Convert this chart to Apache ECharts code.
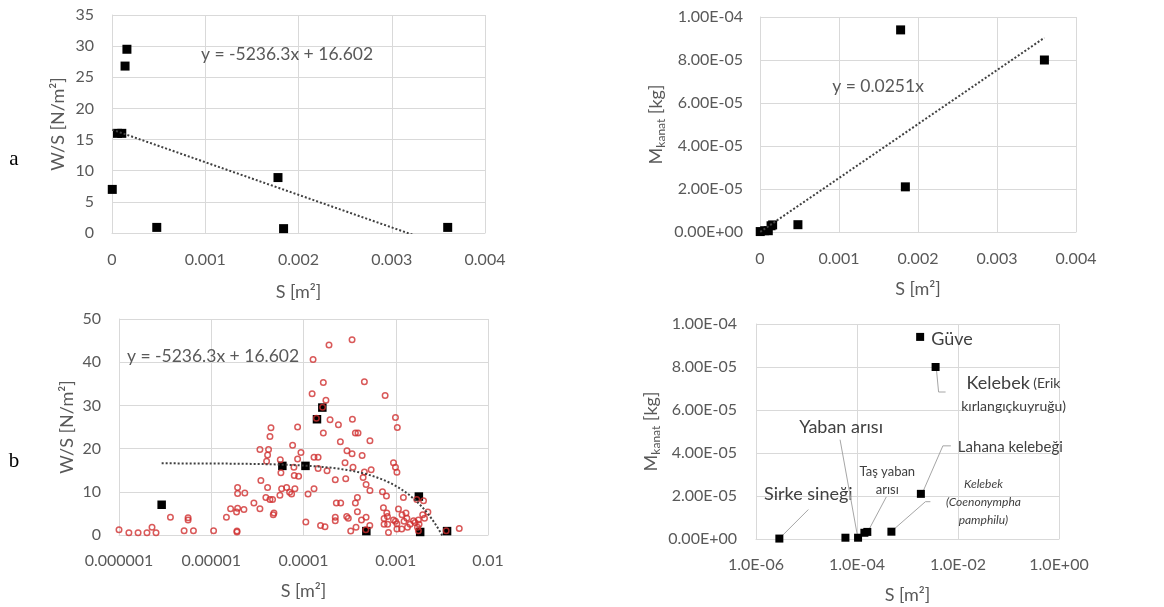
<!DOCTYPE html>
<html><head><meta charset="utf-8">
<script src="https://cdn.jsdelivr.net/npm/echarts@6/dist/echarts.min.js"></script>
<style>html,body{margin:0;padding:0;background:#fff}#c{width:1164px;height:607px}</style>
</head><body><div id="c"></div>
<script>
// ---------- DATA ----------
const speciesNames = ['Sirke sineği', '', 'Yaban arısı', '', 'Taş yaban arısı', 'Kelebek (Coenonympha pamphilu)', 'Güve', 'Lahana kelebeği', 'Kelebek (Erik kırlangıçkuyruğu)'];
const speciesS  = [2.9e-6, 5.9e-5, 1.05e-4, 1.4e-4, 1.6e-4, 4.8e-4, 1.78e-3, 1.84e-3, 3.6e-3];
const speciesWS = [7.0, 16.0, 16.0, 26.8, 29.5, 0.9, 8.9, 0.7, 0.9];
const speciesM  = [2e-7, 6e-7, 6e-7, 2.9e-6, 3.3e-6, 3.4e-6, 9.4e-5, 2.1e-5, 8.0e-5];

const otherS = [1.0e-6,1.28e-6,1.61e-6,2.01e-6,2.28e-6,2.52e-6,3.61e-6,5.61e-6,5.61e-6,5.08e-6,6.41e-6,1.06e-5,1.46e-5,1.62e-5,1.90e-5,1.90e-5,1.93e-5,1.93e-5,1.93e-5,1.88e-5,
2.26e-5,2.31e-5,2.90e-5,3.37e-5,3.45e-5,3.37e-5,3.91e-5,3.98e-5,4.08e-5,4.18e-5,4.08e-5,4.33e-5,4.44e-5,4.33e-5,4.62e-5,4.70e-5,4.78e-5,5.55e-5,5.60e-5,5.69e-5,
5.79e-5,6.56e-5,7.07e-5,7.43e-5,7.62e-5,7.87e-5,7.94e-5,8.07e-5,8.63e-5,8.63e-5,8.85e-5,9.38e-5,1.06e-4,1.12e-4,1.24e-4,1.27e-4,1.30e-4,1.30e-4,1.44e-4,1.44e-4,
1.38e-4,1.61e-4,1.53e-4,1.71e-4,1.64e-4,1.64e-4,1.75e-4,1.89e-4,1.94e-4,1.80e-4,2.21e-4,2.27e-4,2.21e-4,2.21e-4,2.39e-4,2.53e-4,2.51e-4,2.82e-4,2.87e-4,2.94e-4,
3.06e-4,3.25e-4,2.96e-4,3.36e-4,3.39e-4,3.36e-4,3.44e-4,3.65e-4,3.71e-4,3.65e-4,3.90e-4,3.84e-4,3.84e-4,4.25e-4,4.32e-4,4.43e-4,4.57e-4,4.57e-4,4.77e-4,4.77e-4,
4.74e-4,5.23e-4,5.25e-4,5.25e-4,5.41e-4,7.18e-4,7.35e-4,7.47e-4,7.67e-4,7.93e-4,8.00e-4,8.13e-4,8.17e-4,7.47e-4,8.34e-4,9.45e-4,9.93e-4,9.93e-4,1.03e-3,1.04e-3,
9.45e-4,9.93e-4,1.03e-3,1.07e-3,1.03e-3,1.16e-3,1.17e-3,1.21e-3,1.23e-3,1.29e-3,1.32e-3,1.34e-3,1.43e-3,1.56e-3,1.62e-3,1.69e-3,1.72e-3,1.76e-3,1.79e-3,1.76e-3,
1.96e-3,2.00e-3,2.05e-3,2.23e-3,3.52e-3,4.88e-3];
const otherWS = [1.2,0.5,0.5,0.5,1.8,0.5,4.1,4.0,3.5,1.0,1.0,1.0,4.1,6.1,0.9,0.7,11.0,9.6,6.2,5.3,
5.9,9.7,7.4,6.1,12.6,19.8,8.7,17.1,18.5,19.8,11.0,22.8,24.8,8.2,8.2,4.7,5.1,9.2,17.4,14.4,
10.7,11.0,9.9,9.5,20.8,15.7,13.8,10.7,25.0,17.6,13.6,19.1,3.0,9.5,32.7,40.6,10.7,18.0,18.0,15.4,
27.0,29.6,2.2,1.9,35.3,23.6,31.2,44.0,26.7,14.9,12.8,7.4,4.1,3.3,25.5,7.4,21.6,16.7,13.0,4.3,
3.9,0.9,19.5,45.2,26.8,18.8,15.7,7.4,1.8,23.6,23.6,8.7,5.4,3.5,18.4,13.3,35.5,14.6,11.7,4.1,
1.2,2.2,10.3,21.8,15.1,10.0,6.3,3.8,32.3,9.0,5.1,4.3,2.5,2.5,0.6,16.7,27.2,15.7,14.5,24.9,
3.5,3.2,2.6,6.0,1.4,1.4,4.7,8.7,3.2,5.1,3.9,1.8,2.5,3.3,2.9,8.2,1.8,3.5,2.5,1.0,
4.7,7.9,3.9,5.3,1.0,1.5];

// Trendline coefficients (as printed on the chart)
const trendWSSlope = -5236.3, trendWSIntercept = 16.602;
const trendMSlope = 0.0251;

// Tick labels
const aXTickLabels = ['0', '0.001', '0.002', '0.003', '0.004'];
const aYTickLabels = ['0', '5', '10', '15', '20', '25', '30', '35'];
const cYTickLabels = ['0.00E+00', '2.00E-05', '4.00E-05', '6.00E-05', '8.00E-05', '1.00E-04'];
const bXTickLabels = ['0.000001', '0.00001', '0.0001', '0.001', '0.01'];
const bYTickLabels = ['0', '10', '20', '30', '40', '50'];
const dXTickLabels = ['1.0E-06', '1.0E-04', '1.0E-02', '1.0E+00'];

// ---------- BUILD ----------
const minS = Math.min(...speciesS), maxS = Math.max(...speciesS);
const wsLine = s => trendWSSlope * s + trendWSIntercept;
const trendA = [[minS, wsLine(minS)], [maxS, wsLine(maxS)]];
const trendC = [[minS, trendMSlope * minS], [maxS, trendMSlope * maxS]];
const trendB = [];
for (let i = 0; i <= 80; i++) { const s = minS * Math.pow(maxS / minS, i / 80); trendB.push([s, wsLine(s)]); }
const pairs = (xs, ys) => xs.map((x, i) => [x, ys[i]]);

const GRAY = '#595959', GRID = '#d9d9d9', FONT = 'Lato, "Open Sans", sans-serif';
const tickStyle = {color: GRAY, fontSize: 16, fontFamily: FONT};
const nameStyle = {color: GRAY, fontSize: 18, fontFamily: FONT};
const lineCommon = {axisLine: {show: true, lineStyle: {color: GRID}}, axisTick: {show: false},
  splitLine: {show: true, lineStyle: {color: GRID, width: 1}}, minorTick: {show: false}};
const dotted = {color: '#404040', type: 'dotted', width: 2};
const sq = {symbol: 'rect', itemStyle: {color: '#000', opacity: 1}};

const chart = echarts.init(document.getElementById('c'), null, {renderer: 'canvas'});
const option = {
  animation: false,
  backgroundColor: '#fff',
  grid: [
    {left: 112, top: 15, width: 373, height: 218},
    {left: 760, top: 17, width: 316, height: 215},
    {left: 119, top: 319, width: 369, height: 216},
    {left: 756, top: 324, width: 303, height: 215}
  ],
  xAxis: [
    Object.assign({type: 'value', gridIndex: 0, min: 0, max: 0.004, interval: 0.001, name: 'S [m²]', nameLocation: 'middle', nameGap: 50, nameTextStyle: nameStyle,
      axisLabel: Object.assign({margin: 19, formatter: v => aXTickLabels[Math.round(v / 0.001)]}, tickStyle)}, lineCommon),
    Object.assign({type: 'value', gridIndex: 1, min: 0, max: 0.004, interval: 0.001, name: 'S [m²]', nameLocation: 'middle', nameGap: 48, nameTextStyle: nameStyle,
      axisLabel: Object.assign({margin: 19, formatter: v => aXTickLabels[Math.round(v / 0.001)]}, tickStyle)}, lineCommon),
    Object.assign({type: 'log', logBase: 10, gridIndex: 2, min: 1e-6, max: 1e-2, name: 'S [m²]', nameLocation: 'middle', nameGap: 47, nameTextStyle: nameStyle,
      axisLabel: Object.assign({margin: 18, formatter: v => bXTickLabels[Math.round(Math.log10(v)) + 6]}, tickStyle)}, lineCommon),
    Object.assign({type: 'log', logBase: 100, gridIndex: 3, min: 1e-6, max: 1, name: 'S [m²]', nameLocation: 'middle', nameGap: 47, nameTextStyle: nameStyle,
      axisLabel: Object.assign({margin: 18, formatter: v => dXTickLabels[Math.round(Math.log10(v) / 2) + 3]}, tickStyle)}, lineCommon)
  ],
  yAxis: [
    Object.assign({type: 'value', gridIndex: 0, min: 0, max: 35, interval: 5, name: 'W/S [N/m²]', nameLocation: 'middle', nameGap: 45, nameTextStyle: nameStyle,
      axisLabel: Object.assign({margin: 18, formatter: v => aYTickLabels[Math.round(v / 5)]}, tickStyle)}, lineCommon),
    Object.assign({type: 'value', gridIndex: 1, min: 0, max: 1e-4, interval: 2e-5, name: '{m|M}{s|kanat}{m| [kg]}', nameLocation: 'middle', nameGap: 93,
      nameTextStyle: {color: GRAY, fontFamily: FONT, rich: {m: {fontSize: 18, color: GRAY, fontFamily: FONT}, s: {fontSize: 12, color: GRAY, fontFamily: FONT, padding: [10, 0, 0, 0]}}},
      axisLabel: Object.assign({margin: 17, formatter: v => cYTickLabels[Math.round(v / 2e-5)]}, tickStyle)}, lineCommon),
    Object.assign({type: 'value', gridIndex: 2, min: 0, max: 50, interval: 10, name: 'W/S [N/m²]', nameLocation: 'middle', nameGap: 43, nameTextStyle: nameStyle,
      axisLabel: Object.assign({margin: 18, formatter: v => bYTickLabels[Math.round(v / 10)]}, tickStyle)}, lineCommon),
    Object.assign({type: 'value', gridIndex: 3, min: 0, max: 1e-4, interval: 2e-5, name: '{m|M}{s|kanat}{m| [kg]}', nameLocation: 'middle', nameGap: 94,
      nameTextStyle: {color: GRAY, fontFamily: FONT, rich: {m: {fontSize: 18, color: GRAY, fontFamily: FONT}, s: {fontSize: 12, color: GRAY, fontFamily: FONT, padding: [10, 0, 0, 0]}}},
      axisLabel: Object.assign({margin: 19, formatter: v => cYTickLabels[Math.round(v / 2e-5)]}, tickStyle)}, lineCommon)
  ],
  series: [
    {type: 'line', xAxisIndex: 0, yAxisIndex: 0, data: trendA, showSymbol: false, lineStyle: dotted, silent: true, clip: true},
    Object.assign({type: 'scatter', xAxisIndex: 0, yAxisIndex: 0, symbolSize: 9, data: pairs(speciesS, speciesWS)}, sq),
    {type: 'line', xAxisIndex: 1, yAxisIndex: 1, data: trendC, showSymbol: false, lineStyle: dotted, silent: true, clip: true},
    Object.assign({type: 'scatter', xAxisIndex: 1, yAxisIndex: 1, symbolSize: 9, data: pairs(speciesS, speciesM)}, sq),
    {type: 'line', xAxisIndex: 2, yAxisIndex: 2, data: trendB, showSymbol: false, lineStyle: dotted, silent: true, clip: true},
    Object.assign({type: 'scatter', xAxisIndex: 2, yAxisIndex: 2, symbolSize: 8.5, data: pairs(speciesS, speciesWS)}, sq),
    {type: 'scatter', xAxisIndex: 2, yAxisIndex: 2, symbol: 'circle', symbolSize: 5.5, data: pairs(otherS, otherWS),
      itemStyle: {color: 'rgba(0,0,0,0)', borderColor: '#d03030', borderWidth: 1.5}},
    Object.assign({type: 'scatter', xAxisIndex: 3, yAxisIndex: 3, symbolSize: 8, data: pairs(speciesS, speciesM)}, sq)
  ]
};
chart.setOption(option);

// ---------- ANNOTATIONS ----------
const LBL = '#404040', LEAD = '#a6a6a6';
const pt = i => chart.convertToPixel({gridIndex: 3}, [speciesS[i], speciesM[i]]);
const g = [];
function txt(x, y, text, font, align, color, extra) {
  g.push({type: 'text', x, y, silent: true, style: Object.assign({text, font, fill: color || LBL, align: align || 'center', verticalAlign: 'middle'}, extra || {})});
}
function lead(i, offs) {
  const p = pt(i);
  g.push({type: 'polyline', silent: true, shape: {points: offs.map(o => [p[0] + o[0], p[1] + o[1]])}, style: {stroke: LEAD, lineWidth: 1, fill: null}});
}
function lab(i, dx, dy, text, font, align, extra) { const p = pt(i); txt(p[0] + dx, p[1] + dy, text, font, align, LBL, extra); }

const F18 = '18px ' + FONT, F15 = '15px ' + FONT, F13 = '13px ' + FONT, FI = 'italic 12px ' + FONT;
// Sirke sineği
lead(0, [[3, -3], [29, -29]]);
lab(0, 29, -44, speciesNames[0], F18);
// Yaban arısı
lead(2, [[-1, -4], [-18, -98]]);
lab(2, -17, -111, speciesNames[2], F18);
// Taş yaban arısı
lead(4, [[2, -3], [19, -35]]);
lab(4, 20, -60, 'Taş yaban', F13);
lab(4, 20, -42, 'arısı', F13);
// Coenonympha
lead(5, [[2, -2], [34, -30], [39, -30]]);
lab(5, 92, -48, 'Kelebek', FI);
lab(5, 92, -30, '(Coenonympha', FI);
lab(5, 92, -12, 'pamphilu)', FI);
// Güve
lab(6, 11, 2, speciesNames[6], F18, 'left');
// Lahana kelebeği
lead(7, [[2, -2], [22, -48], [30, -48]]);
lab(7, 37, -47, speciesNames[7], F15, 'left');
// Kelebek (Erik kırlangıçkuyruğu)
lead(8, [[1, 4], [3, 25], [10, 25]]);
{
  const p = pt(8);
  g.push({type: 'text', x: p[0] + 31, y: p[1] + 16, silent: true, style: {text: '{b|Kelebek} {s|(Erik}', align: 'left', verticalAlign: 'middle',
    rich: {b: {font: F18, fill: LBL, color: LBL}, s: {font: '14px ' + FONT, fill: LBL, color: LBL}}}});
  txt(p[0] + 78, p[1] + 39, 'kırlangıçkuyruğu)', '14px ' + FONT, 'center');
}
// Equations and panel letters
txt(287, 54, 'y = -5236.3x + 16.602', '17.5px ' + FONT, 'center', GRAY);
txt(878, 86, 'y = 0.0251x', '17.5px ' + FONT, 'center', GRAY);
txt(213, 356, 'y = -5236.3x + 16.602', '17.5px ' + FONT, 'center', GRAY);
txt(14, 159, 'a', '21px "Liberation Serif", serif', 'center', '#000');
txt(14, 461, 'b', '21px "Liberation Serif", serif', 'center', '#000');

chart.setOption({graphic: g});
</script></body></html>
